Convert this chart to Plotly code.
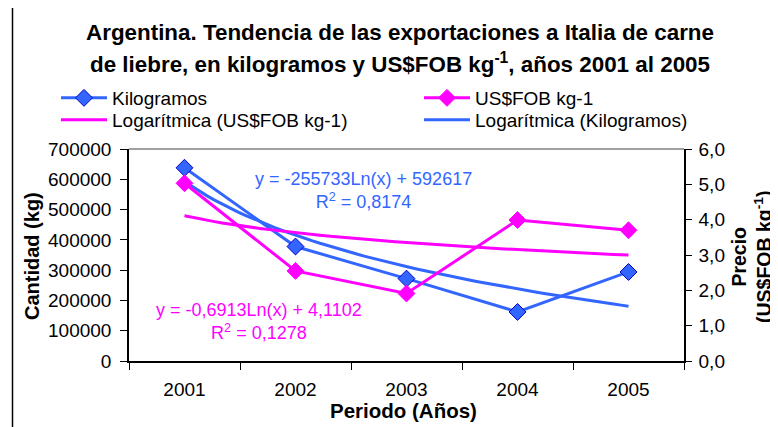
import numpy as np
import plotly.graph_objects as go

# ---- data ----
years = ["2001", "2002", "2003", "2004", "2005"]
period = [1, 2, 3, 4, 5]
kilogramos = [638000, 378000, 272000, 162000, 294000]
precio = [5.03, 2.55, 1.91, 3.99, 3.70]
# logarithmic trend coefficients shown on the chart
kg_a, kg_b = -255733, 592617
pr_a, pr_b = -0.6913, 4.1102
kg_eq = "y = -255733Ln(x) + 592617<br>R<sup>2</sup> = 0,8174"
pr_eq = "y = -0,6913Ln(x) + 4,1102<br>R<sup>2</sup> = 0,1278"
title_1 = "<b>Argentina. Tendencia de las exportaciones a Italia de carne</b>"
title_2 = "<b>de liebre, en kilogramos y US$FOB kg<sup>-1</sup>, años 2001 al 2005</b>"

BLUE = "#3366FF"
PINK = "#FF00FF"
FONT = "Liberation Sans, Arial, sans-serif"

xf = np.linspace(1, 5, 60)
kg_trend = kg_a * np.log(xf) + kg_b
pr_trend = pr_a * np.log(xf) + pr_b

# page is shown with an 8px body margin -> figure is offset by 8px
OFF = 8
W, H = 778 - OFF, 427 - OFF
L, T = 129 - OFF, 149 - OFF
pw, ph = 555, 212
R, B = W - L - pw, H - T - ph


def px(xp):  # page pixel -> paper
    return (xp - OFF - L) / pw


def py(yp):
    return 1 - (yp - OFF - T) / ph


fig = go.Figure()
fig.add_trace(go.Scatter(
    x=period, y=kilogramos, name="Kilogramos", mode="lines+markers",
    line=dict(color=BLUE, width=3),
    marker=dict(symbol="diamond", size=13, color=BLUE, line=dict(color="#0000CC", width=1)),
    legend="legend"))
fig.add_trace(go.Scatter(
    x=period, y=precio, name="US$FOB kg-1", mode="lines+markers", yaxis="y2",
    line=dict(color=PINK, width=3),
    marker=dict(symbol="diamond", size=13, color=PINK, line=dict(color=PINK, width=1)),
    legend="legend2"))
fig.add_trace(go.Scatter(
    x=xf, y=pr_trend, name="Logarítmica (US$FOB kg-1)", mode="lines", yaxis="y2",
    line=dict(color=PINK, width=3), legend="legend3"))
fig.add_trace(go.Scatter(
    x=xf, y=kg_trend, name="Logarítmica (Kilogramos)", mode="lines",
    line=dict(color=BLUE, width=3), legend="legend4"))

leg_common = dict(xanchor="left", yanchor="middle", orientation="h",
                  font=dict(size=19), bgcolor="rgba(0,0,0,0)", itemwidth=46)


def ann(text, x, y, size, color="black", angle=0):
    return dict(text=text, x=px(x), y=py(y), xref="paper", yref="paper",
                showarrow=False, xanchor="center", yanchor="middle",
                align="center", textangle=angle,
                font=dict(size=size, color=color))


fig.update_layout(
    width=W, height=H,
    margin=dict(l=L, r=R, t=T, b=B, autoexpand=False),
    paper_bgcolor="white", plot_bgcolor="white",
    font=dict(family=FONT, size=19, color="black"),
    separators=",.",
    xaxis=dict(
        range=[0.5, 5.5], tickvals=period, ticktext=years, ticks="",
        showline=True, linecolor="black", linewidth=1.5, showgrid=False, zeroline=False,
        minor=dict(tickvals=[0.5, 1.5, 2.5, 3.5, 4.5, 5.5], ticks="outside", ticklen=7,
                   tickcolor="black", tickwidth=1.2, showgrid=False),
        ticklabelstandoff=10, tickfont=dict(size=19)),
    yaxis=dict(
        range=[0, 700000], dtick=100000, tickformat="d",
        ticks="outside", ticklen=7, tickcolor="black", tickwidth=1.2,
        showline=True, linecolor="black", linewidth=1.5, showgrid=False, zeroline=False,
        ticklabelstandoff=5, tickfont=dict(size=19)),
    yaxis2=dict(
        range=[0, 6], dtick=1, tickformat=".1f", overlaying="y", side="right",
        ticks="outside", ticklen=6, tickcolor="black", tickwidth=1.2,
        showline=True, linecolor="black", linewidth=1.5, showgrid=False, zeroline=False,
        ticklabelstandoff=3, tickfont=dict(size=19)),
    legend=dict(x=px(56), y=py(98), **leg_common),
    legend2=dict(x=px(419), y=py(98), **leg_common),
    legend3=dict(x=px(56), y=py(120), **leg_common),
    legend4=dict(x=px(419), y=py(120), **leg_common),
    showlegend=True,
    annotations=[
        ann(title_1, 400, 32.5, 22.4),
        ann(title_2, 400, 62.5, 22.4),
        ann("<b>Cantidad (kg)</b>", 32, 256, 20, angle=-90),
        ann("<b>Precio<br>(US$FOB kg<sup>-1</sup>)</b>", 751, 257, 19.5, angle=-90),
        ann("<b>Periodo (Años)</b>", 403.5, 410, 20.5),
        ann(kg_eq, 363, 190, 18, BLUE),
        ann(pr_eq, 258.5, 321, 18, PINK),
    ],
    shapes=[
        dict(type="line", xref="paper", yref="paper", x0=0, x1=1, y0=1, y1=1,
             line=dict(color="#808080", width=1.5)),
        dict(type="rect", xref="paper", yref="paper",
             x0=px(12.5), x1=px(800), y0=py(450), y1=py(5.5),
             line=dict(color="black", width=1.5)),
    ],
)

fig.write_html("out.html")
